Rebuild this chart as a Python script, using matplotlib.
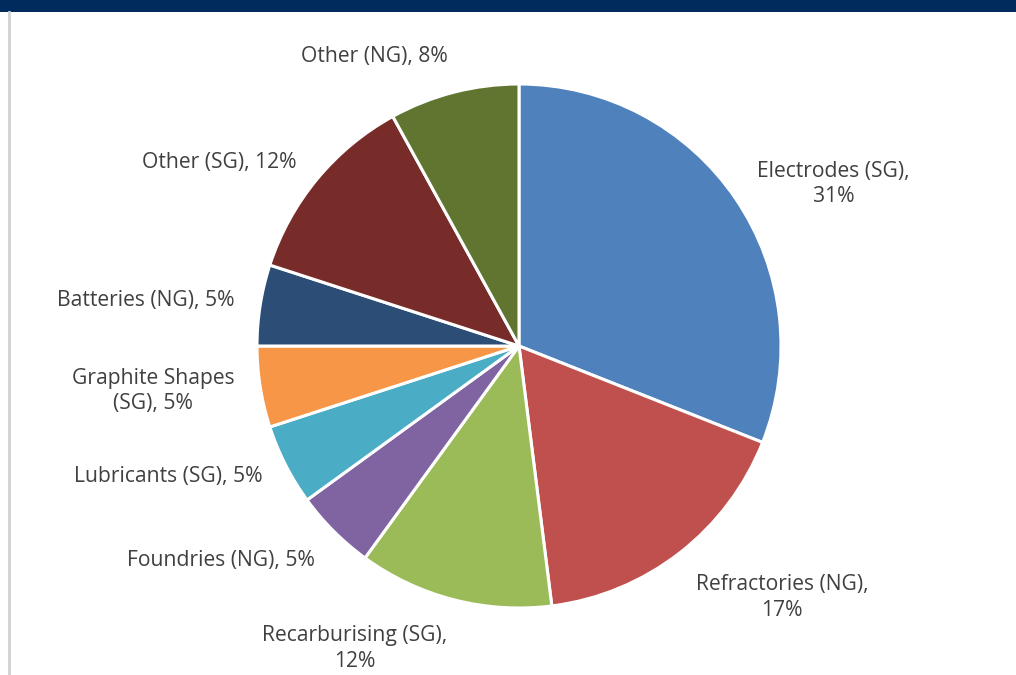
import numpy as np
from matplotlib import pyplot as plt
from matplotlib.patches import Rectangle

# datos del grafico
etiquetas = ["Electrodes (SG),\n31%", "Refractories (NG),\n17%", "Recarburising (SG),\n12%",
             "Foundries (NG), 5%", "Lubricants (SG), 5%", "Graphite Shapes\n(SG), 5%",
             "Batteries (NG), 5%", "Other (SG), 12%", "Other (NG), 8%"]
valores = [31, 17, 12, 5, 5, 5, 5, 12, 8]
colores = ["#4F81BD", "#C0504D", "#9BBB59", "#8064A2", "#4BACC6",
           "#F79646", "#2C4D75", "#772C2A", "#5F7530"]

W, H = 1016, 675
fig = plt.figure(figsize=(W / 100, H / 100), dpi=100)
ax = fig.add_axes([0, 0, 1, 1])

# barra superior y linea izquierda
ax.add_patch(Rectangle((0, H - 12), W, 12, color="#002B5C", lw=0))
ax.plot([8.5, 8.5], [0, H - 12], color="#D0D0D0", lw=2)

cx, cy, R = 519, H - 346, 262
wedges, _ = ax.pie(valores, colors=colores, startangle=90, counterclock=False,
                   center=(cx, cy), radius=R, frame=True,
                   wedgeprops=dict(edgecolor='white', linewidth=2.2))
ax.set_xlim(0, W)
ax.set_ylim(0, H)
ax.set_aspect('equal')
ax.axis('off')

for w, txt in zip(wedges, etiquetas):
    ang = np.deg2rad((w.theta1 + w.theta2) / 2)
    c, s = np.cos(ang), np.sin(ang)
    x = cx + 1.1 * R * c
    y = cy + 1.1 * R * s
    ha = 'left' if c > 0 else 'right'
    if abs(s) < 0.7:
        va = 'center'
    elif s > 0:
        va = 'bottom'
    else:
        va = 'top'
    ax.text(x, y, txt, ha=ha, va=va, multialignment='center',
            fontsize=15.2, color="#404040", family="Open Sans", linespacing=1.3)

fig.savefig("out.png", dpi=100)
